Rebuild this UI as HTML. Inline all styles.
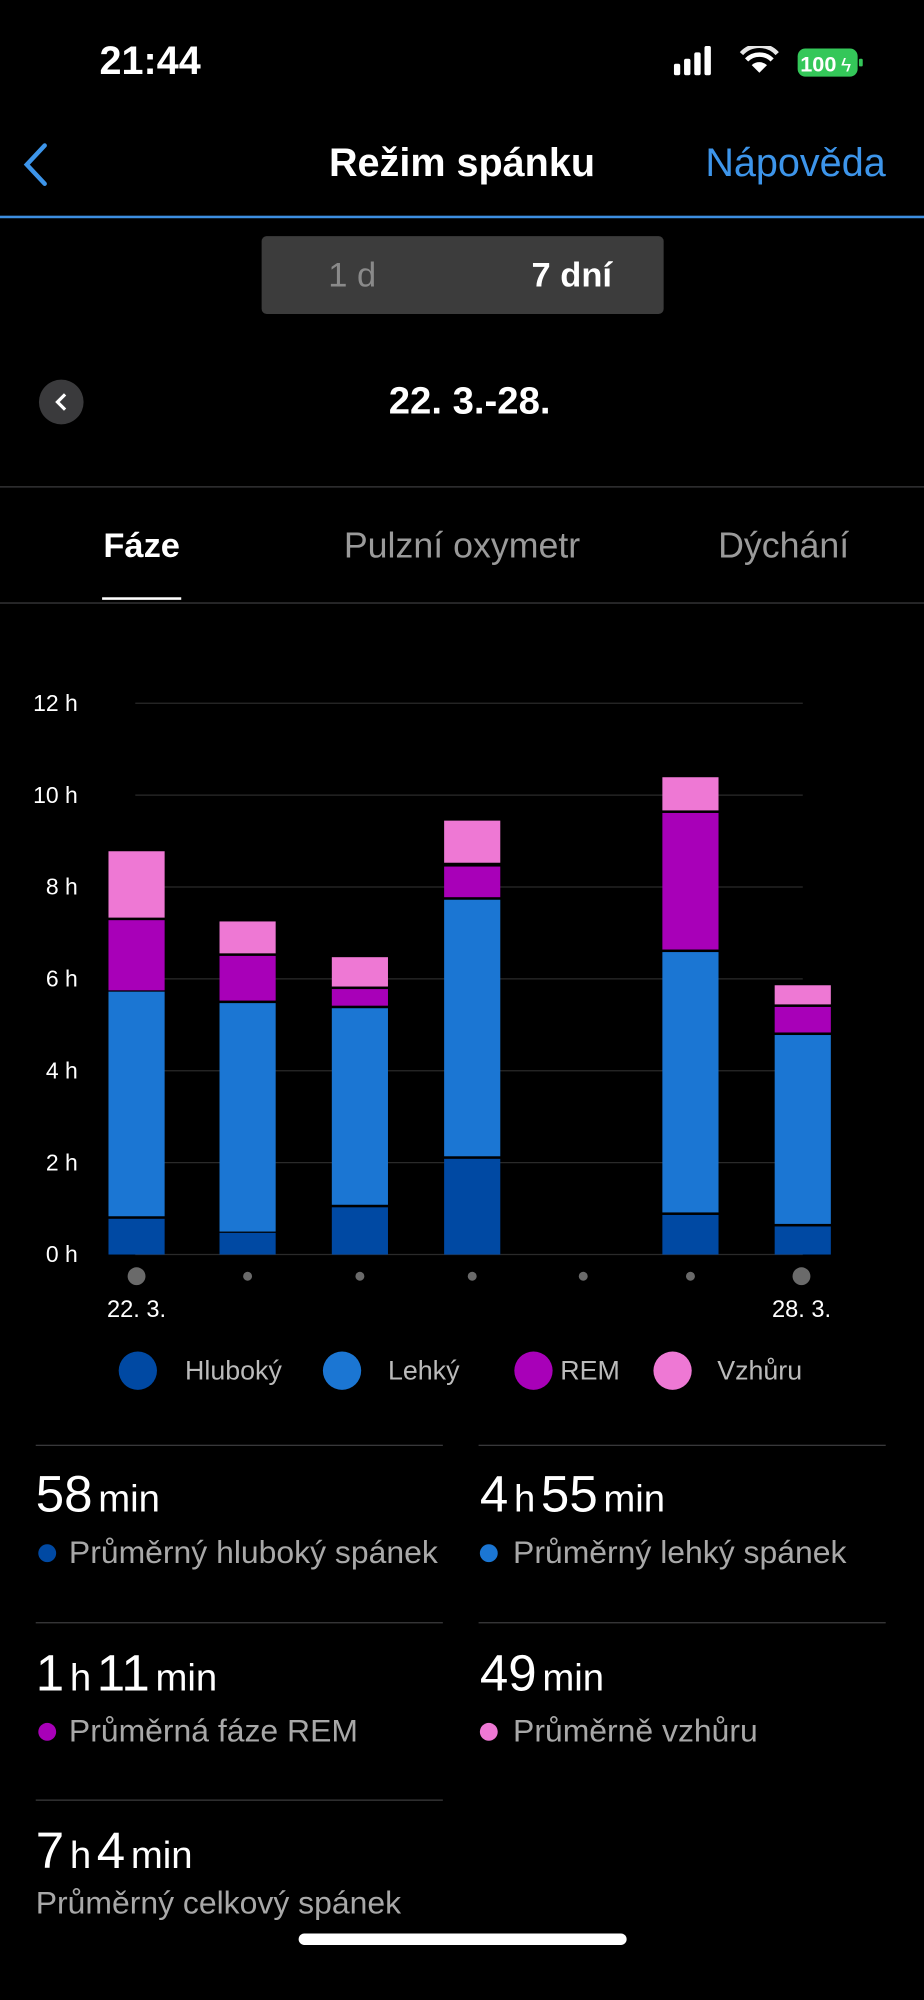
<!DOCTYPE html>
<html><head><meta charset="utf-8"><style>
html,body{margin:0;padding:0;background:#000;width:924px;height:1999px;overflow:hidden}
#w{position:absolute;left:0;top:0;width:724px;height:1567px;transform:scale(1.27624);transform-origin:0 0;font-family:"Liberation Sans",sans-serif;color:#fff}
.a{position:absolute;white-space:nowrap}
.c{transform:translate(-50%,-50%)}
.l{transform:translateY(-50%)}
.hl{position:absolute;height:1px;background:#3a3a3c}
.big{font-size:40px}.unit{font-size:30px}
.lab{font-size:25px;color:#a8a8a8}
.dot{position:absolute;width:14px;height:14px;border-radius:50%;transform:translate(-50%,-50%)}
</style></head><body><div id="w">
<div class="a l" style="left:78px;top:48px;font-size:31px;font-weight:bold">21:44</div>
<svg class="a" style="left:528px;top:36px" width="150" height="26">
<rect x="0" y="14" width="5" height="9" rx="1.5" fill="#fff"/><rect x="8" y="10" width="5" height="13" rx="1.5" fill="#fff"/><rect x="16" y="5" width="5" height="18" rx="1.5" fill="#fff"/><rect x="24" y="0" width="5" height="23" rx="1.5" fill="#fff"/>
<g transform="translate(12,0)"><path d="M55 21 L49 15 A9 9 0 0 1 61 15 Z" fill="#fff"/><path d="M45 11 A14 14 0 0 1 65 11" stroke="#fff" stroke-width="3.5" fill="none"/><path d="M41 6 A19 19 0 0 1 69 6" stroke="#fff" stroke-width="3.5" fill="none" opacity=".9"/></g>
<rect x="97" y="2" width="47" height="22" rx="6" fill="#34c759"/><rect x="145" y="10" width="3" height="6" rx="1" fill="#34c759"/>
<text x="99" y="20" font-size="17" font-weight="bold" fill="#fff" font-family="Liberation Sans">100</text><text x="131" y="20" font-size="15" fill="#fff">ϟ</text>
</svg>
<svg class="a" style="left:16px;top:112px" width="24" height="34"><path d="M19 2 L5 17 L19 32" stroke="#3d95ea" stroke-width="3.5" fill="none" stroke-linecap="round"/></svg>
<div class="a c" style="left:362px;top:128px;font-size:31px;font-weight:bold">Režim spánku</div>
<div class="a l" style="right:30px;top:128px;font-size:31px;color:#3d95ea">Nápověda</div>
<div class="a" style="left:0;top:169px;width:724px;height:2px;background:#3d8ee0"></div>
<div class="a" style="left:205px;top:185px;width:315px;height:61px;background:#3c3c3c;border-radius:4px"></div>
<div class="a c" style="left:276px;top:216px;font-size:27px;color:#8a8a8a">1 d</div>
<div class="a c" style="left:448px;top:216px;font-size:27px;font-weight:bold">7 dní</div>
<div class="a c" style="left:48px;top:315px;width:35px;height:35px;border-radius:50%;background:#3a3a3c"></div>
<svg class="a" style="left:42px;top:307px" width="12" height="16"><path d="M9 2 L3 8 L9 14" stroke="#fff" stroke-width="2.5" fill="none"/></svg>
<div class="a c" style="left:368px;top:315px;font-size:30px;font-weight:bold">22. 3.-28.</div>
<div class="hl" style="left:0;top:381px;width:724px"></div>
<div class="a c" style="left:111px;top:428px;font-size:27px;font-weight:bold">Fáze</div>
<div class="a c" style="left:362px;top:428px;font-size:28px;color:#9a9a9a">Pulzní oxymetr</div>
<div class="a c" style="left:614px;top:428px;font-size:28px;color:#9a9a9a">Dýchání</div>
<div class="a" style="left:80px;top:468px;width:62px;height:2px;background:#fff"></div>
<div class="hl" style="left:0;top:472px;width:724px"></div>
<svg class="a" style="left:0;top:530px" width="724" height="560" font-family="Liberation Sans">
<g stroke="#2a2a2a" stroke-width="1">
<line x1="106" x2="629" y1="21" y2="21"/><line x1="106" x2="629" y1="93" y2="93"/><line x1="106" x2="629" y1="165" y2="165"/><line x1="106" x2="629" y1="237" y2="237"/><line x1="106" x2="629" y1="309" y2="309"/><line x1="106" x2="629" y1="381" y2="381"/><line x1="106" x2="629" y1="453" y2="453"/></g>
<g fill="#fff" font-size="18" text-anchor="end">
<text x="61" y="27">12 h</text><text x="61" y="99">10 h</text><text x="61" y="171">8 h</text><text x="61" y="243">6 h</text><text x="61" y="315">4 h</text><text x="61" y="387">2 h</text><text x="61" y="459">0 h</text></g>
<g transform="translate(0,-530)">
<g fill="#0049a3"><rect x="85" y="955" width="44" height="28"/><rect x="172" y="966" width="44" height="17"/><rect x="260" y="946" width="44" height="37"/><rect x="348" y="908" width="44" height="75"/><rect x="519" y="952" width="44" height="31"/><rect x="607" y="961" width="44" height="22"/></g>
<g fill="#1b76d3"><rect x="85" y="777" width="44" height="176"/><rect x="172" y="786" width="44" height="179"/><rect x="260" y="790" width="44" height="154"/><rect x="348" y="705" width="44" height="201"/><rect x="519" y="746" width="44" height="204"/><rect x="607" y="811" width="44" height="148"/></g>
<g fill="#a800b8"><rect x="85" y="721" width="44" height="55"/><rect x="172" y="749" width="44" height="35"/><rect x="260" y="775" width="44" height="13"/><rect x="348" y="679" width="44" height="24"/><rect x="519" y="637" width="44" height="107"/><rect x="607" y="789" width="44" height="20"/></g>
<g fill="#ee78d4"><rect x="85" y="667" width="44" height="52"/><rect x="172" y="722" width="44" height="25"/><rect x="260" y="750" width="44" height="23"/><rect x="348" y="643" width="44" height="33"/><rect x="519" y="609" width="44" height="26"/><rect x="607" y="772" width="44" height="15"/></g>
<g fill="#6a6a6a"><circle cx="107" cy="1000" r="7"/><circle cx="628" cy="1000" r="7"/><circle cx="194" cy="1000" r="3.5"/><circle cx="282" cy="1000" r="3.5"/><circle cx="370" cy="1000" r="3.5"/><circle cx="457" cy="1000" r="3.5"/><circle cx="541" cy="1000" r="3.5"/></g>
<g fill="#fff" font-size="18.5" text-anchor="middle"><text x="107" y="1032">22. 3.</text><text x="628" y="1032">28. 3.</text></g>
<circle cx="108" cy="1074" r="15" fill="#0049a3"/><circle cx="268" cy="1074" r="15" fill="#1b76d3"/><circle cx="418" cy="1074" r="15" fill="#a800b8"/><circle cx="527" cy="1074" r="15" fill="#ee78d4"/>
<g fill="#bbb" font-size="21"><text x="145" y="1081">Hluboký</text><text x="304" y="1081">Lehký</text><text x="439" y="1081">REM</text><text x="562" y="1081">Vzhůru</text></g>
</g></svg>
<div class="hl" style="left:28px;top:1132px;width:319px"></div><div class="hl" style="left:375px;top:1132px;width:319px"></div>
<div class="hl" style="left:28px;top:1271px;width:319px"></div><div class="hl" style="left:375px;top:1271px;width:319px"></div>
<div class="hl" style="left:28px;top:1410px;width:319px"></div>
<div class="a l" style="left:28px;top:1172px"><span class="big">58</span> <span class="unit">min</span></div>
<div class="dot" style="left:37px;top:1217px;background:#0049a3"></div><div class="a l lab" style="left:54px;top:1217px">Průměrný hluboký spánek</div>
<div class="a l" style="left:376px;top:1172px"><span class="big">4</span> <span class="unit">h</span> <span class="big">55</span> <span class="unit">min</span></div>
<div class="dot" style="left:383px;top:1217px;background:#1b76d3"></div><div class="a l lab" style="left:402px;top:1217px">Průměrný lehký spánek</div>
<div class="a l" style="left:28px;top:1312px"><span class="big">1</span> <span class="unit">h</span> <span class="big">11</span> <span class="unit">min</span></div>
<div class="dot" style="left:37px;top:1357px;background:#a800b8"></div><div class="a l lab" style="left:54px;top:1357px">Průměrná fáze REM</div>
<div class="a l" style="left:376px;top:1312px"><span class="big">49</span> <span class="unit">min</span></div>
<div class="dot" style="left:383px;top:1357px;background:#ee78d4"></div><div class="a l lab" style="left:402px;top:1357px">Průměrně vzhůru</div>
<div class="a l" style="left:28px;top:1451px"><span class="big">7</span> <span class="unit">h</span> <span class="big">4</span> <span class="unit">min</span></div>
<div class="a l lab" style="left:28px;top:1492px">Průměrný celkový spánek</div>
<div class="a" style="left:234px;top:1515px;width:257px;height:9px;border-radius:5px;background:#fff"></div>
</div></body></html>
